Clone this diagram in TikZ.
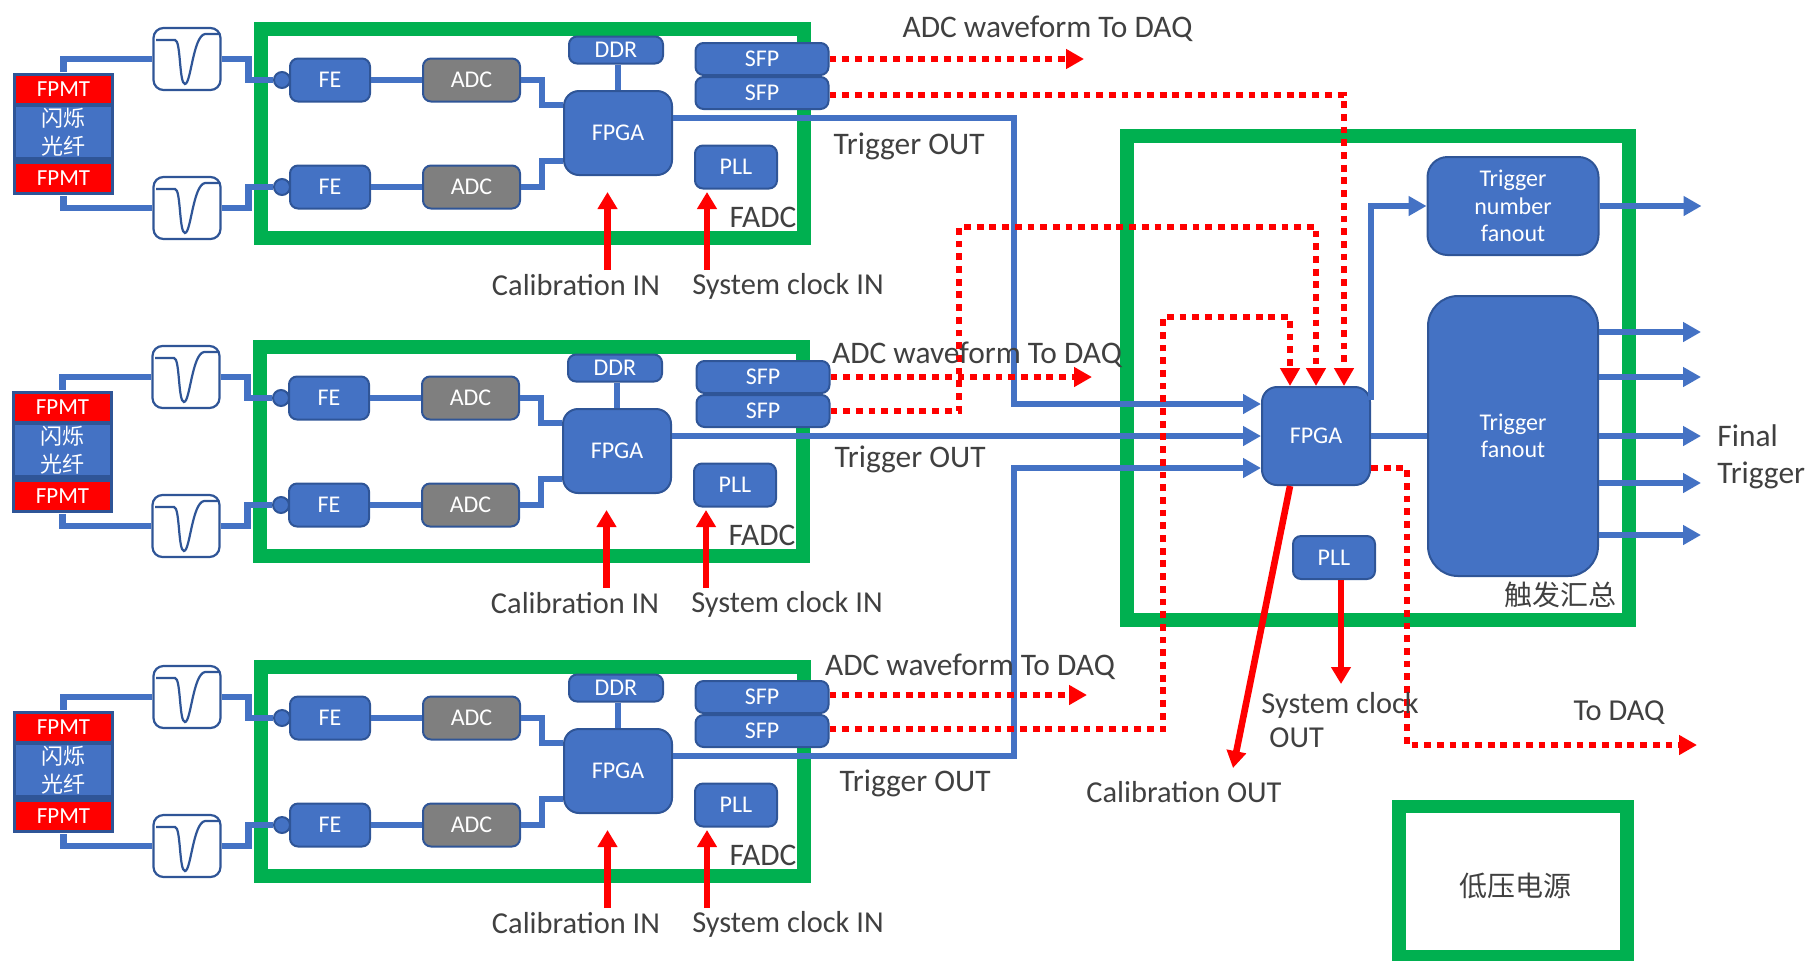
\documentclass[tikz,border=0pt]{standalone}
\usepackage{fontspec}
\setmainfont{Carlito}
\newfontfamily\cjk{Noto Sans CJK SC}
\usetikzlibrary{arrows.meta}
\definecolor{ink}{HTML}{404040}
\definecolor{cblue}{HTML}{4472C4}
\definecolor{dblue}{HTML}{2F5597}
\definecolor{cgreen}{HTML}{00B050}
\definecolor{cgrey}{HTML}{7F7F7F}
\definecolor{cred}{HTML}{FF0000}
\tikzset{
  sz/.style 2 args={minimum width=#1*0.5pt,minimum height=#2*0.5pt},
  bx/.style={draw=dblue,fill=cblue,line width=1pt,rounded corners=4pt,align=center,inner sep=0pt,
    text=white,font=\fontsize{12}{13.75}\selectfont},
  bxg/.style={bx,fill=cgrey},
  bxr/.style={bx,draw=none,fill=cred,rounded corners=0pt},
  filter/.style={draw=dblue,fill=white,line width=1.1pt,rounded corners=5pt,inner sep=0pt,sz={67}{62}},
  frame/.style={draw=cgreen,line width=6.75pt,inner sep=0pt},
  lab/.style={text=ink,inner sep=0pt,align=left,font=\fontsize{15.7}{18.5}\selectfont},
  labs/.style={lab,font=\fontsize{15.2}{17}\selectfont},
  wire/.style={draw=cblue,line width=3.3pt},
  warr/.style={wire,-{Triangle[length=9pt,width=9.5pt]}},
  solid red/.style={draw=cred,line width=3.3pt,-{Triangle[length=8.5pt,width=9.5pt]}},
  link/.style={draw=cred,line width=3.3pt,dash pattern=on 3.4pt off 2.95pt},
  larr/.style={link,-{Triangle[length=9pt,width=9.5pt]}},
}
\begin{document}
\begin{tikzpicture}[x=0.5pt,y=-0.5pt]
  \useasboundingbox (0,0) rectangle (1807,960);
  \foreach \m/\dx/\dy/\sx in {a/0/0/0,b/-1/318/2,c/0/638/0}{
    \begin{scope}[shift={(\dx,\dy)}]
      \node[frame,sz={543}{209}] (fadc\m) at (532.5,133.5) {};
      \node[lab] (name\m) at (763,217) {FADC};
      \node[bx,draw=none,fill=dblue,rounded corners=0pt,sz={101}{122}] (stack\m) at (63.5,134) {};
      \node[bxr,sz={95}{27},font=\fontsize{11.5}{13}\selectfont] (pmtu\m) at (63.5,89.5) {FPMT};
      \node[bxr,sz={95}{28},font=\fontsize{11.5}{13}\selectfont] (pmtd\m) at (63.5,178) {FPMT};
      \node[bx,draw=none,rounded corners=0pt,sz={95}{50},font=\fontsize{11}{14}\cjk] (fib\m) at (63.5,132) {闪烁\\光纤};
      \node[bx,rounded corners=7.5pt,sz={108}{84}] (fpga\m) at (618,133) {FPGA};
      \node[bx,sz={94}{27}] (ddr\m) at (616,50) {DDR};
      \node[bx,sz={133}{32}] (sfpu\m) at (762+\sx,59) {SFP};
      \node[bx,sz={133}{32}] (sfpd\m) at (762+\sx,93) {SFP};
      \node[bx,sz={82}{43}] (pll\m) at (736,167) {PLL};
      \draw[wire] (ddr\m.south -| fpga\m.north) -- (fpga\m.north);
      \foreach \n/\fy/\y/\s/\a in {1/59/80/14/north,2/208/187/-14/south}{
        \node[filter] (flt\n\m) at (187,\fy) {};
        \begin{scope}[shift={(187,\fy)}]
          \draw[draw=dblue,line width=1.1pt] (-31,-19) -- (-12,-19) .. controls (-6,-19) and (-8,25) .. (-2,25)
            .. controls (4,25) and (6,-23) .. (18,-25) -- (33,-25);
        \end{scope}
        \node[bx,circle,sz={16}{16}] (dot\n\m) at (282,\y) {};
        \node[bx,sz={80}{43}] (fe\n\m) at (330,\y) {FE};
        \node[bxg,sz={97}{43}] (adc\n\m) at (471.5,\y) {ADC};
        \draw[wire] (stack\m.\a) |- (flt\n\m.west);
        \draw[wire] (flt\n\m.east) -- ++(27,0) |- (dot\n\m.west);
        \draw[wire] (fe\n\m.east) -- (adc\n\m.west);
        \draw[wire] (adc\n\m.east) -- ++(21,0) |- ([yshift=\s pt]fpga\m.west);
      }
      \coordinate (calin\m) at (607.5,270);
      \coordinate (caltip\m) at (607.5,192);
      \coordinate (clkin\m) at (707,270);
      \coordinate (clktip\m) at (707,192);
      \draw[solid red] (calin\m) -- (caltip\m);
      \draw[solid red] (clkin\m) -- (clktip\m);
      \node[labs] (callab\m) at (576,285) {Calibration IN};
      \node[labs] (clklab\m) at (788,286) {System clock IN};
    \end{scope}
  }
  \node[frame,sz={502}{484}] (sum) at (1378,378) {};
  \node[frame,sz={228}{150}] (power) at (1513,881.5) {};
  \node[lab,font=\fontsize{14}{17}\cjk] (powerlab) at (1515,886) {低压电源};
  \node[lab,font=\fontsize{14}{17}\cjk] (sumlab) at (1560,595) {触发汇总};
  \node[bx,rounded corners=7.5pt,sz={108}{98}] (fpgat) at (1316,436) {FPGA};
  \node[bx,sz={82}{43}] (pllt) at (1334,557.5) {PLL};
  \node[bx,rounded corners=10pt,sz={171}{98}] (numfan) at (1513,206) {Trigger\\number\\fanout};
  \node[bx,rounded corners=15pt,sz={170}{280}] (fan) at (1513,436) {Trigger\\fanout};
  \coordinate (trunka) at (1014,404);
  \coordinate (trunkc) at (1014,468);
  \draw[warr] ([yshift=7.5pt]fpgaa.east) -| (trunka) -- ([yshift=16pt]fpgat.west);
  \draw[warr] ([yshift=7.5pt]fpgab.east) -- (fpgat.west);
  \draw[warr] ([yshift=7.5pt]fpgac.east) -| (trunkc) -- ([yshift=-16pt]fpgat.west);
  \draw[warr] ([yshift=18pt]fpgat.east) |- (numfan.west);
  \draw[wire] (fpgat.east) -- (fan.west);
  \draw[warr] (numfan.east) -- ++(102,0);
  \foreach \s in {52,29.5,0,-23.5,-49.5}
    \draw[warr] ([yshift=\s pt]fan.east) -- ++(102,0);
  \coordinate (taila) at (1084,59);
  \coordinate (tailb) at (1092,377);
  \coordinate (tailc) at (1087,695);
  \draw[larr] (sfpua.east) -- (taila);
  \draw[larr] (sfpub.east) -- (tailb);
  \draw[larr] ([yshift=1pt]sfpuc.east) -- (tailc);
  \coordinate (bendb) at (959,227);
  \coordinate (bendc) at (1163,317);
  \coordinate (bendq) at (1407,745);
  \coordinate (tailq) at (1697,745);
  \coordinate (tipcal) at (1233,768);
  \coordinate (tipclk) at (1341,684);
  \draw[larr] ([yshift=-1pt]sfpda.east) -| ([xshift=14pt]fpgat.north);
  \draw[larr] (sfpdb.east) -| (bendb) -| (fpgat.north);
  \draw[larr] ([yshift=1pt]sfpdc.east) -| (bendc) -| ([xshift=-13pt]fpgat.north);
  \draw[larr] ([yshift=-16pt]fpgat.east) -| (bendq) -- (tailq);
  \draw[solid red] ([xshift=-13pt]fpgat.south) -- (tipcal);
  \draw[solid red] ([xshift=3.5pt]pllt.south) -- (tipclk);
  \node[lab] (wava) at (1047.5,29) {ADC waveform To DAQ};
  \node[lab] (wavb) at (977,355) {ADC waveform To DAQ};
  \node[lab] (wavc) at (970,667) {ADC waveform To DAQ};
  \node[lab] (trga) at (909,146) {Trigger OUT};
  \node[lab] (trgb) at (910,459) {Trigger OUT};
  \node[lab] (trgc) at (915,783) {Trigger OUT};
  \node[labs,anchor=west,font=\fontsize{15.7}{18.5}\selectfont] (final) at (1717,457) {Final\\Trigger};
  \node[labs,anchor=west] (clkout) at (1261,720) {System clock\\\hspace*{4pt}OUT};
  \node[labs] (calout) at (1184,792) {Calibration OUT};
  \node[labs] (todaq) at (1619,713) {To DAQ};
\end{tikzpicture}
\end{document}
